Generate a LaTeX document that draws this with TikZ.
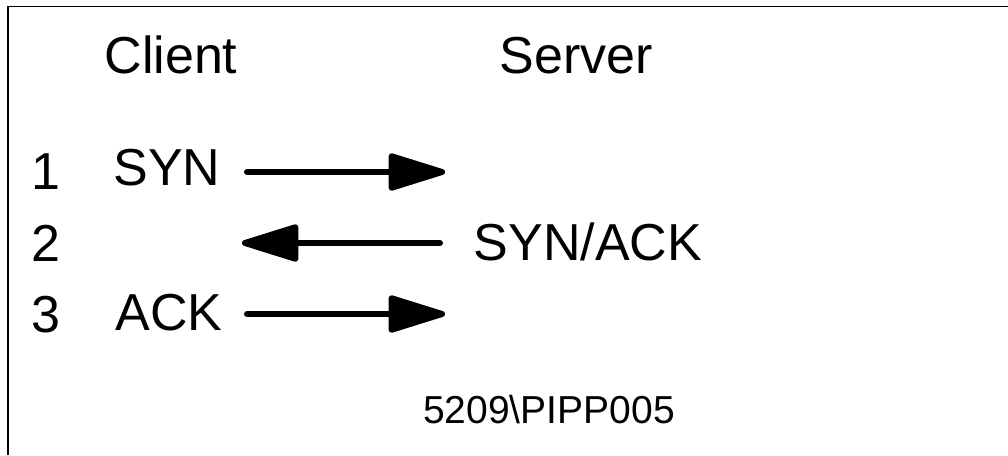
\documentclass[tikz,border=0pt]{standalone}
\usepackage{fontspec}
\setmainfont{Liberation Sans}
\usepackage{tikz}
\usetikzlibrary{arrows.meta}
\tikzset{
  x=1pt, y=-1pt,
  big/.style={inner sep=0pt, anchor=base, font=\fontsize{52}{60}\selectfont},
  small/.style={inner sep=0pt, anchor=base, font=\fontsize{39}{45}\selectfont},
  msg/.style={line width=6pt, line cap=round,
    -{Triangle[length=64pt,width=38pt,round]}}
}

\begin{document}
\begin{tikzpicture}
\useasboundingbox (0,0) rectangle (1008,455);
\draw[line width=1.5pt] (8,455) -- (8,6.5) -- (1008,6.5);
\node[big] (client) at (171,73) {Client};
\node[big] (server) at (576,73) {Server};
\node[big] (n1) at (46,189) {1};
\node[big] (n2) at (46,261) {2};
\node[big] (n3) at (46,332) {3};
\node[big] (syn) at (167,185) {SYN};
\node[big] (synack) at (588,260) {SYN/ACK};
\node[big] (ack) at (169,330) {ACK};
\node[small] (fig) at (549,423) {5209\textbackslash PIPP005};
\coordinate (c1) at (247,172);
\coordinate (s1) at (445,172);
\coordinate (s2) at (440,243);
\coordinate (c2) at (242,243);
\coordinate (c3) at (247,314);
\coordinate (s3) at (445,314);
\draw[msg] (c1) -- (s1);
\draw[msg] (s2) -- (c2);
\draw[msg] (c3) -- (s3);
\end{tikzpicture}
\end{document}
